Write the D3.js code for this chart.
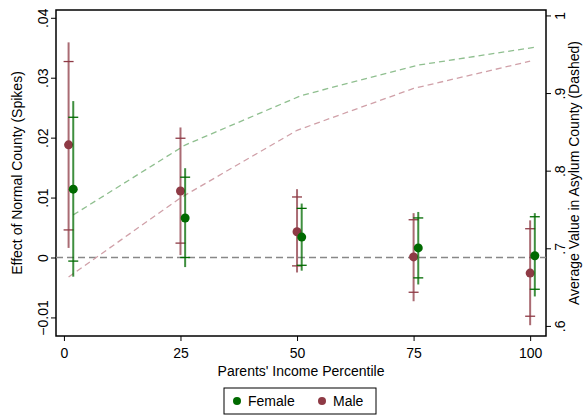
<!DOCTYPE html>
<html><head><meta charset="utf-8">
<script src="https://cdn.jsdelivr.net/npm/d3@7"></script>
<style>body{margin:0;background:#fff}text{font-family:"Liberation Sans",Arial,sans-serif}</style>
</head><body><svg id="c" width="585" height="415"></svg>
<script>
const margins = { top: 10, bottom: 79, left: 56, right: 39 }
const width = 585, height = 415

// Male estimates at percentiles, with 95% (outer) and 90% (tick) bounds
const male_x = [1, 25, 50, 75, 100]
const male_est = [0.0188, 0.0111, 0.0043, 0.0001, -0.0026]
const male_lo95 = [0.0016, 0.0004, -0.0025, -0.0073, -0.0113]
const male_hi95 = [0.0359, 0.0217, 0.0114, 0.0074, 0.0062]
const male_lo90 = [0.0046, 0.0024, -0.0014, -0.0058, -0.0098]
const male_hi90 = [0.0327, 0.0199, 0.0101, 0.0063, 0.0048]

const female_x = [2, 26, 51, 76, 101]
const female_est = [0.0114, 0.0066, 0.0034, 0.0016, 0.0003]
const female_lo95 = [-0.0032, -0.0016, -0.0022, -0.0045, -0.0065]
const female_hi95 = [0.0261, 0.0149, 0.009, 0.0076, 0.0074]
const female_lo90 = [-0.0006, 0, -0.0013, -0.0034, -0.0053]
const female_hi90 = [0.0234, 0.0134, 0.0082, 0.0066, 0.0068]

// average value in asylum county (dashed)
const male_avg = [0.663, 0.765, 0.852, 0.906, 0.941]
const female_avg = [0.743, 0.833, 0.897, 0.936, 0.959]

const x_ticks = [0, 25, 50, 75, 100]
const left_ticks = [-0.01, 0, 0.01, 0.02, 0.03, 0.04]
const right_ticks = [0.6, 0.7, 0.8, 0.9, 1]

const male_col = "#8e3a45", female_col = "#006a00"
const male_dash = "#d0a0a8", female_dash = "#8fbf8f"

const svg = d3.select("#c")
const x0 = margins.left, x1 = width - margins.right
const y0 = margins.top, y1 = height - margins.bottom

const x_scale = d3.scaleLinear([-1.7, 103.4], [x0, x1])
const yl = d3.scaleLinear([-0.0131, 0.0413], [y1, y0])
const yr = d3.scaleLinear([0.587, 1.007], [y1, y0])
const fmt = v => v === 0 ? "0" : (v === 1 ? "1" : d3.format(".2~f")(v).replace(/^(-?)0\./, "$1."))

svg.append("rect").attr("x", x0).attr("y", y0).attr("width", x1 - x0).attr("height", y1 - y0)
  .attr("fill", "none").attr("stroke", "#000").attr("stroke-width", 1.5)

// zero line
svg.append("line").attr("x1", x0).attr("x2", x1).attr("y1", yl(0)).attr("y2", yl(0))
  .attr("stroke", "#888").attr("stroke-width", 1.3).attr("stroke-dasharray", "7,4")

// axes
const ax = svg.append("g").attr("transform", `translate(0,${y1})`)
  .call(d3.axisBottom(x_scale).tickValues(x_ticks).tickSize(5).tickFormat(d3.format("d")))
const al = svg.append("g").attr("transform", `translate(${x0},0)`)
  .call(d3.axisLeft(yl).tickValues(left_ticks).tickSize(5).tickFormat(fmt))
const ar = svg.append("g").attr("transform", `translate(${x1},0)`)
  .call(d3.axisRight(yr).tickValues(right_ticks).tickSize(5).tickFormat(fmt))
;[ax, al, ar].forEach(g => { g.select(".domain").remove(); g.selectAll("text").attr("font-size", 14).attr("fill", "#000") })
ax.selectAll("text").attr("dy", "1em")
al.selectAll(".tick text").attr("transform", "rotate(-90)").attr("x", 0).attr("y", -8).attr("dy", 0).attr("text-anchor", "middle")
ar.selectAll(".tick text").attr("transform", "rotate(-90)").attr("x", 0).attr("y", 8).attr("dy", "0.75em").attr("text-anchor", "middle")

svg.append("text").attr("x", (x0 + x1) / 2).attr("y", y1 + 40).attr("text-anchor", "middle").attr("font-size", 14).text("Parents' Income Percentile")
svg.append("text").attr("transform", `translate(22,${(y0 + y1) / 2}) rotate(-90)`).attr("text-anchor", "middle").attr("font-size", 14).text("Effect of Normal County (Spikes)")
svg.append("text").attr("transform", `translate(${x1 + 33},${(y0 + y1) / 2}) rotate(-90)`).attr("text-anchor", "middle").attr("font-size", 14).text("Average Value in Asylum County (Dashed)")

// dashed lines
const dline = (xs, vs, c) => svg.append("path")
  .attr("d", d3.line().x((d, i) => x_scale(xs[i])).y(d => yr(d))(vs))
  .attr("fill", "none").attr("stroke", c).attr("stroke-width", 1.3).attr("stroke-dasharray", "6,4")
dline(female_x, female_avg, female_dash)
dline(male_x, male_avg, male_dash)

const series = (xs, est, lo95, hi95, lo90, hi90, c) => {
  xs.forEach((xv, i) => {
    const x = x_scale(xv)
    svg.append("line").attr("x1", x).attr("x2", x).attr("y1", yl(lo95[i])).attr("y2", yl(hi95[i]))
      .attr("stroke", c).attr("stroke-width", 2).attr("opacity", 0.75)
    ;[lo90[i], hi90[i]].forEach(v => svg.append("line").attr("x1", x - 5).attr("x2", x + 5)
      .attr("y1", yl(v)).attr("y2", yl(v)).attr("stroke", c).attr("stroke-width", 1.3))
    svg.append("circle").attr("cx", x).attr("cy", yl(est[i])).attr("r", 4.5).attr("fill", c)
  })
}
series(male_x, male_est, male_lo95, male_hi95, male_lo90, male_hi90, male_col)
series(female_x, female_est, female_lo95, female_hi95, female_lo90, female_hi90, female_col)

// legend
const lg = svg.append("g").attr("transform", `translate(224,${y1 + 52})`)
lg.append("rect").attr("width", 152).attr("height", 26).attr("fill", "#fff").attr("stroke", "#000")
lg.append("circle").attr("cx", 13).attr("cy", 13).attr("r", 4).attr("fill", female_col)
lg.append("text").attr("x", 24).attr("y", 18).attr("font-size", 14).text("Female")
lg.append("circle").attr("cx", 98).attr("cy", 13).attr("r", 4).attr("fill", male_col)
lg.append("text").attr("x", 109).attr("y", 18).attr("font-size", 14).text("Male")
</script></body></html>
